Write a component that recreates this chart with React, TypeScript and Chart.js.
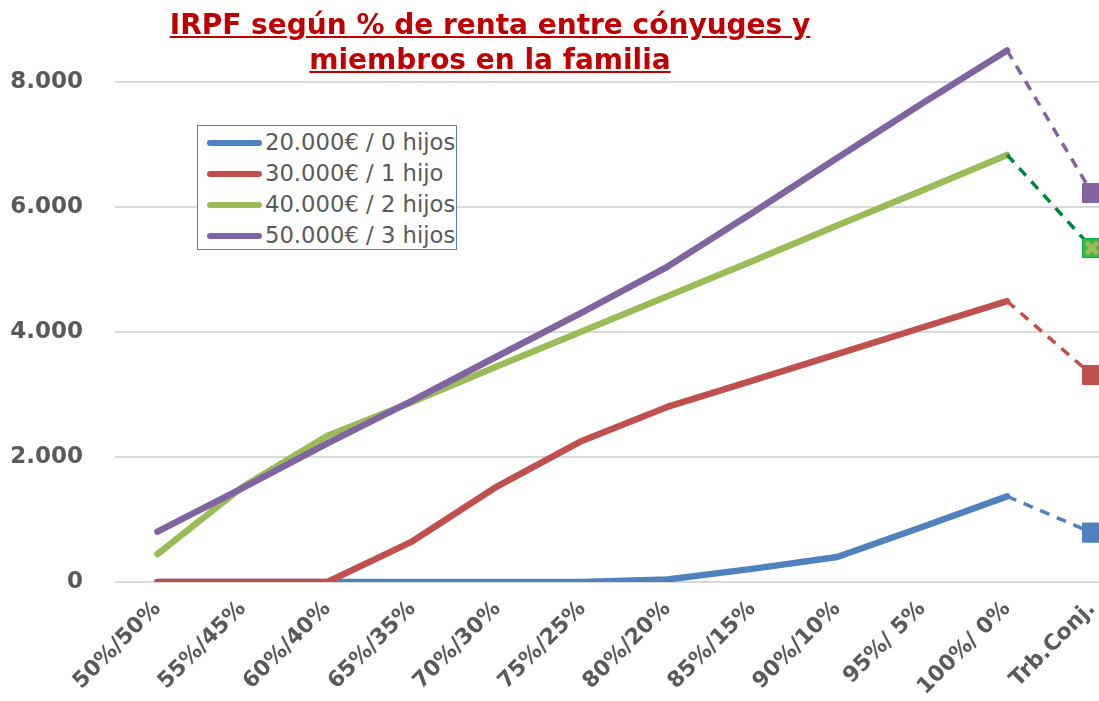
import React, { useEffect, useRef } from "react";
import { Chart, registerables } from "chart.js";

Chart.register(...registerables);

// Reparto de la renta entre cónyuges y tributación conjunta
const categories = [
  "50%/50%",
  "55%/45%",
  "60%/40%",
  "65%/35%",
  "70%/30%",
  "75%/25%",
  "80%/20%",
  "85%/15%",
  "90%/10%",
  "95%/ 5%",
  "100%/ 0%",
  "Trb.Conj.",
];

const seriesNames = [
  "20.000€ / 0 hijos",
  "30.000€ / 1 hijo",
  "40.000€ / 2 hijos",
  "50.000€ / 3 hijos",
];
const seriesColors = ["#4F81BD", "#C0504D", "#9BBB59", "#8064A2"];
const dashColors = ["#4F81BD", "#C0504D", "#00843D", "#8064A2"];
const markerFill = ["#4F81BD", "#C0504D", "#3DB54A", "#8064A2"];

// IRPF con tributación individual, por reparto de la renta
const irpf20k = [0, 0, 0, 0, 0, 0, 40, 210, 400, 880, 1370];
const irpf30k = [0, 0, 0, 650, 1530, 2260, 2800, 3220, 3645, 4070, 4490];
const irpf40k = [446, 1520, 2340, 2880, 3450, 4010, 4570, 5130, 5700, 6260, 6830];
const irpf50k = [805, 1500, 2215, 2900, 3610, 4310, 5040, 5900, 6780, 7650, 8500];
// IRPF con tributación conjunta
const conjunta = [790, 3310, 5340, 6220];

const yTicks = [0, 2000, 4000, 6000, 8000];
const yMax = 9075;

const FONT = "'DejaVu Sans', Verdana, sans-serif";
const GREY = "#595959";

function fmtMiles(v: number): string {
  const s = Math.round(v).toString();
  return s.replace(/\B(?=(\d{3})+(?!\d))/g, ".");
}

export default function App() {
  const canvasRef = useRef<HTMLCanvasElement | null>(null);

  useEffect(() => {
    if (!canvasRef.current) return;
    const series = [irpf20k, irpf30k, irpf40k, irpf50k];
    const n = categories.length;
    const lastIdx = n - 1;
    const splitIdx = n - 2;

    const datasets: any[] = [];
    series.forEach((vals, i) => {
      // línea continua: tributación individual
      datasets.push({
        label: seriesNames[i],
        data: [...vals, null],
        borderColor: seriesColors[i],
        backgroundColor: seriesColors[i],
        borderWidth: 6.5,
        borderCapStyle: "round",
        borderJoinStyle: "round",
        pointRadius: 0,
        tension: 0,
        order: 10 - i * 2,
      });
      // tramo discontinuo hasta la tributación conjunta
      const conn: (number | null)[] = categories.map(() => null);
      conn[splitIdx] = vals[vals.length - 1];
      conn[lastIdx] = conjunta[i];
      datasets.push({
        label: seriesNames[i] + " (conjunta)",
        data: conn,
        borderColor: dashColors[i],
        borderWidth: 3.5,
        borderDash: [10, 8],
        borderCapStyle: "butt",
        pointStyle: "rect",
        pointRadius: (ctx: any) => (ctx.dataIndex === lastIdx ? 13.5 : 0),
        pointBackgroundColor: markerFill[i],
        pointBorderColor: i === 2 ? "#00B050" : markerFill[i],
        pointBorderWidth: 1,
        tension: 0,
        order: 9 - i * 2,
      });
    });
    // aspa del marcador de 2 hijos
    const cross: (number | null)[] = categories.map(() => null);
    cross[lastIdx] = conjunta[2];
    datasets.push({
      label: "aspa",
      data: cross,
      showLine: false,
      pointStyle: "crossRot",
      pointRadius: 8,
      pointBorderColor: "#9BBB59",
      pointBorderWidth: 5,
      order: 0,
    });

    const chart = new Chart(canvasRef.current, {
      type: "line",
      data: { labels: categories, datasets },
      options: {
        animation: false,
        responsive: false,
        events: [],
        layout: { padding: 0 },
        plugins: {
          legend: { display: false },
          tooltip: { enabled: false },
          title: { display: false },
        },
        scales: {
          x: {
            type: "category",
            offset: true,
            grid: { display: false },
            border: { display: false },
            ticks: {
              autoSkip: false,
              maxRotation: 45,
              minRotation: 45,
              color: GREY,
              padding: 6,
              font: { family: FONT, size: 22, weight: "bold" },
            },
            afterFit: (s: any) => {
              s.height = 119;
            },
          },
          y: {
            min: 0,
            max: yMax,
            grid: {
              color: "#D9D9D9",
              lineWidth: 2,
              drawTicks: true,
              tickLength: 32,
              tickColor: "rgba(0,0,0,0)",
            },
            border: { display: false },
            ticks: {
              color: GREY,
              padding: 0,
              font: { family: FONT, size: 23, weight: "bold" },
              callback: (v: any) => fmtMiles(Number(v)),
            },
            afterBuildTicks: (axis: any) => {
              axis.ticks = yTicks.map((v) => ({ value: v }));
            },
            afterFit: (s: any) => {
              s.width = 115;
            },
          },
        },
      } as any,
    });
    return () => chart.destroy();
  }, []);

  return (
    <div
      style={{
        position: "fixed",
        left: 0,
        top: 0,
        width: 1099,
        height: 701,
        overflow: "hidden",
        background: "#ffffff",
      }}
    >
      <canvas
        ref={canvasRef}
        width={1149}
        height={701}
        style={{ position: "absolute", left: 0, top: 0, width: 1149, height: 701 }}
      />
      <div
        style={{
          position: "absolute",
          left: 0,
          top: 7,
          width: 980,
          textAlign: "center",
          fontFamily: FONT,
          fontWeight: "bold",
          fontSize: 28,
          lineHeight: "35px",
          color: "#C00000",
          textDecoration: "underline",
        }}
      >
        IRPF según % de renta entre cónyuges y
        <br />
        miembros en la familia
      </div>
      <div
        style={{
          position: "absolute",
          left: 197,
          top: 125,
          width: 260,
          height: 125,
          boxSizing: "border-box",
          border: "1px solid #4F81BD",
          background: "#ffffff",
          paddingTop: 1,
        }}
      >
        {seriesNames.map((name, i) => (
          <div
            key={name}
            style={{
              display: "flex",
              alignItems: "center",
              height: 31,
              paddingLeft: 9,
            }}
          >
            <span
              style={{
                display: "inline-block",
                width: 55,
                height: 6,
                borderRadius: 3,
                background: seriesColors[i],
                marginRight: 3,
              }}
            />
            <span
              style={{
                fontFamily: FONT,
                fontSize: 22.7,
                color: GREY,
                whiteSpace: "nowrap",
                lineHeight: "31px",
              }}
            >
              {name}
            </span>
          </div>
        ))}
      </div>
    </div>
  );
}
